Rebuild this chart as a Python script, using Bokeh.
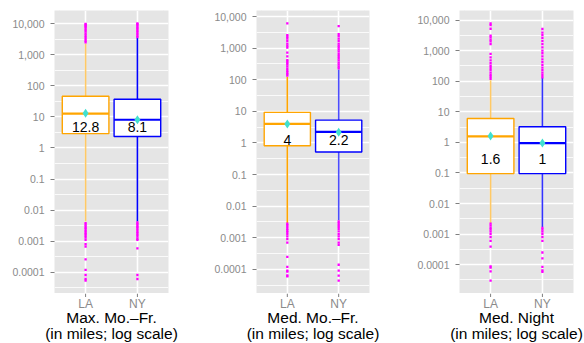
import math
from bokeh.plotting import figure
from bokeh.layouts import row, column
from bokeh.models import Range1d, FixedTicker, ColumnDataSource, Grid
from bokeh.embed import file_html
from bokeh.resources import INLINE

# ---------------- data ----------------
cities = ["LA", "NY"]
panel_titles = ["Max. Mo.\u2013Fr.", "Med. Mo.\u2013Fr.", "Med. Night"]
unit_note = "(in miles; log scale)"

tick_values = [0.0001, 0.001, 0.01, 0.1, 1, 10, 100, 1000, 10000]
tick_labels = ["0.0001", "0.001", "0.01", "0.1", "1", "10", "100", "1,000", "10,000"]

# box statistics per panel: [LA, NY]
q1 = [[2.9, 2.33], [0.82, 0.52], [0.095, 0.095]]
median = [[12.8, 8.1], [4.0, 2.25], [1.57, 0.95]]
q3 = [[46, 37], [9.3, 5.3], [6.0, 3.25]]
whisker_lo = [[0.0043, 0.0043], [0.0029, 0.0036], [0.0023, 0.0017]]
whisker_hi = [[2300, 3600], [125, 210], [108, 130]]
means = [[13.0, 8.1], [4.0, 2.2], [1.6, 0.95]]
mean_labels = [["12.8", "8.1"], ["4", "2.2"], ["1.6", "1"]]

# outliers per panel: [LA, NY]
outliers = [
    [
        [2500, 2800, 3200, 3700, 4200, 4800, 5500, 6200, 7000, 7800, 8500, 9200, 9800,
         0.0038, 0.0034, 0.003, 0.0027, 0.0024, 0.0021, 0.0019, 0.0017, 0.0015, 0.0013,
         0.0011, 0.0008, 0.00067, 0.00026, 0.00012, 0.000082, 0.000061, 0.000054],
        [3700, 4100, 4600, 5200, 5800, 6500, 7200, 8000, 8800, 9600, 10200,
         0.0040, 0.0036, 0.0032, 0.0029, 0.0026, 0.0023, 0.0020, 0.0018, 0.0016, 0.0014,
         0.0012, 0.0011, 0.00059, 0.000082, 0.000061],
    ],
    [
        [6100, 2600, 2300, 2000, 1700, 1400, 1200, 1050, 720, 550, 420, 380, 340, 300,
         260, 220, 190, 170, 150, 135,
         0.0028, 0.0025, 0.0022, 0.0019, 0.0017, 0.0015, 0.0013, 0.0011, 0.0009, 0.0007,
         0.00025, 0.00012, 0.000091, 0.000085, 0.000064, 0.00006],
        [5000, 2800, 2400, 2000, 1700, 1400, 1200, 1050, 900, 780, 650, 560, 480, 410,
         350, 300, 260, 230,
         0.0033, 0.0029, 0.0025, 0.0022, 0.0019, 0.0016, 0.0013, 0.0011, 0.0009, 0.0007,
         0.0006, 0.00014, 0.000091, 0.000063, 0.000044],
    ],
    [
        [7800, 6800, 5200, 3100, 2700, 2300, 2000, 1650, 780, 600, 480, 390, 320, 270,
         230, 190, 160, 140, 120,
         0.0022, 0.0019, 0.0016, 0.0014, 0.0012, 0.001, 0.0008, 0.0006, 0.00039,
         0.000088, 0.00008, 0.00006, 0.00003],
        [5100, 3900, 3200, 2600, 2100, 1650, 1280, 1000, 820, 650, 520, 420, 340, 280,
         230, 190, 160, 135,
         0.0016, 0.0014, 0.0012, 0.001, 0.0008, 0.0006, 0.00025, 0.00016, 0.000084,
         0.000065, 0.000058],
    ],
]

# ---------------- style ----------------
FONT = "Liberation Sans"
colors = ["#FFA500", "#0000FF"]
whisker_alpha = [[0.6, 1.0], [1.0, 0.7], [0.6, 0.8]]
fig_w = [195, 195, 194]
border_l = [54, 61, 69]
border_r = [27, 21, 11]
border_t = [10, 7, 9]
TOTAL_W = sum(fig_w)
MAIN_H = 293
STRIP_H = 343 - MAIN_H
X_LO, X_HI = 0.4, 2.6
TICK_LEN = 3.5
CAT_LABEL_DROP = 10      # px below the panel for LA / NY
TITLE_DROPS = [23.5, 40]  # px below the panel for the two title lines
LABEL_Y = [4.8, 1.24, 0.29]
BOX_W = 0.9

panels = []
tick_x, cat_x, cat_t = [], [], []
title_x, title_y, title_t = [], [], []
offset = 0
for k in range(3):
    xs = [i + 1 for i in range(len(cities))]
    allvals = []
    for c in range(2):
        allvals += outliers[k][c] + [whisker_lo[k][c], whisker_hi[k][c]]
    lo = math.log10(min(allvals))
    hi = math.log10(max(allvals))
    pad = (hi - lo) * 0.05

    p = figure(width=fig_w[k], height=MAIN_H, y_axis_type="log",
               x_range=Range1d(X_LO, X_HI),
               y_range=Range1d(10 ** (lo - pad), 10 ** (hi + pad)),
               x_axis_location=None,
               output_backend="svg", toolbar_location=None,
               min_border_left=border_l[k], min_border_right=border_r[k],
               min_border_top=border_t[k], min_border_bottom=0)
    p.background_fill_color = "#E5E5E5"
    p.border_fill_color = "white"
    p.outline_line_color = None

    # grids
    minor = [10 ** (e + 0.5) for e in range(-6, 6)]
    p.yaxis.ticker = FixedTicker(ticks=tick_values, minor_ticks=minor)
    p.ygrid.grid_line_color = "white"
    p.ygrid.grid_line_width = 1.6
    p.ygrid.minor_grid_line_color = "white"
    p.ygrid.minor_grid_line_width = 0.8
    p.add_layout(Grid(dimension=0, ticker=FixedTicker(ticks=xs),
                      grid_line_color="white", grid_line_width=1.6))

    p.yaxis.major_label_overrides = dict(zip(tick_values, tick_labels))
    ax = p.yaxis[0]
    ax.axis_line_color = None
    ax.major_tick_line_color = "#7F7F7F"
    ax.major_tick_out = 4
    ax.major_tick_in = 0
    ax.minor_tick_line_color = None
    ax.major_label_text_font = FONT
    ax.major_label_text_color = "#8A8A8A"
    ax.major_label_text_font_size = "10.5px"
    ax.major_label_standoff = 6

    for c in range(2):
        x = xs[c]
        col = colors[c]
        # whiskers
        p.segment(x0=[x, x], x1=[x, x], y0=[q3[k][c], q1[k][c]],
                  y1=[whisker_hi[k][c], whisker_lo[k][c]],
                  line_color=col, line_width=1.6, line_alpha=whisker_alpha[k][c])
        # outliers
        ov = outliers[k][c]
        p.scatter(x=[x] * len(ov), y=ov, marker="square", size=2.3,
                  fill_color="#FF00FF", line_color=None)
        # box
        p.vbar(x=[x], width=BOX_W, bottom=[q1[k][c]], top=[q3[k][c]],
               fill_color="white", line_color=col, line_width=1.4)
        # median
        p.segment(x0=[x - BOX_W / 2], x1=[x + BOX_W / 2],
                  y0=[median[k][c]], y1=[median[k][c]],
                  line_color=col, line_width=2.2)

    # means
    p.scatter(x=xs, y=means[k], marker="diamond", size=9,
              fill_color="#40E0D0", line_color=None)
    # labels
    src = ColumnDataSource(dict(x=xs, y=[LABEL_Y[k]] * 2, t=mean_labels[k]))
    p.text(x="x", y="y", text="t", source=src, text_align="center",
           text_baseline="middle", text_font_size="14px",
           text_font={"value": FONT}, text_color="black")
    panels.append(p)

    # x-axis pieces (ticks, category labels, title) drawn in a strip below
    plot_w = fig_w[k] - border_l[k] - border_r[k]
    to_px = lambda v: offset + border_l[k] + (v - X_LO) / (X_HI - X_LO) * plot_w
    for x, name in zip(xs, cities):
        tick_x.append(to_px(x))
        cat_x.append(to_px(x))
        cat_t.append(name)
    center = to_px((X_LO + X_HI) / 2)
    title_x += [center, center]
    title_y += [STRIP_H - d for d in TITLE_DROPS]
    title_t += [panel_titles[k], unit_note]
    offset += fig_w[k]

strip = figure(width=TOTAL_W, height=STRIP_H,
               x_range=Range1d(0, TOTAL_W), y_range=Range1d(0, STRIP_H),
               output_backend="svg", toolbar_location=None,
               x_axis_location=None, y_axis_location=None,
               min_border_left=0, min_border_right=0,
               min_border_top=0, min_border_bottom=0)
strip.grid.visible = False
strip.outline_line_color = None
strip.background_fill_color = "white"
strip.border_fill_color = "white"
strip.segment(x0=tick_x, x1=tick_x, y0=[STRIP_H] * len(tick_x),
              y1=[STRIP_H - TICK_LEN] * len(tick_x),
              line_color="#7F7F7F", line_width=1)
csrc = ColumnDataSource(dict(x=cat_x, y=[STRIP_H - CAT_LABEL_DROP] * len(cat_x), t=cat_t))
strip.text(x="x", y="y", text="t", source=csrc, text_align="center",
           text_baseline="middle", text_font_size="12px",
           text_font={"value": FONT}, text_color="#8A8A8A")
tsrc = ColumnDataSource(dict(x=title_x, y=title_y, t=title_t))
strip.text(x="x", y="y", text="t", source=tsrc, text_align="center",
           text_baseline="middle", text_font_size="15.5px",
           text_font={"value": FONT}, text_color="black")

layout = column(row(*panels), strip)
open("out.html", "w").write(file_html(layout, INLINE))
